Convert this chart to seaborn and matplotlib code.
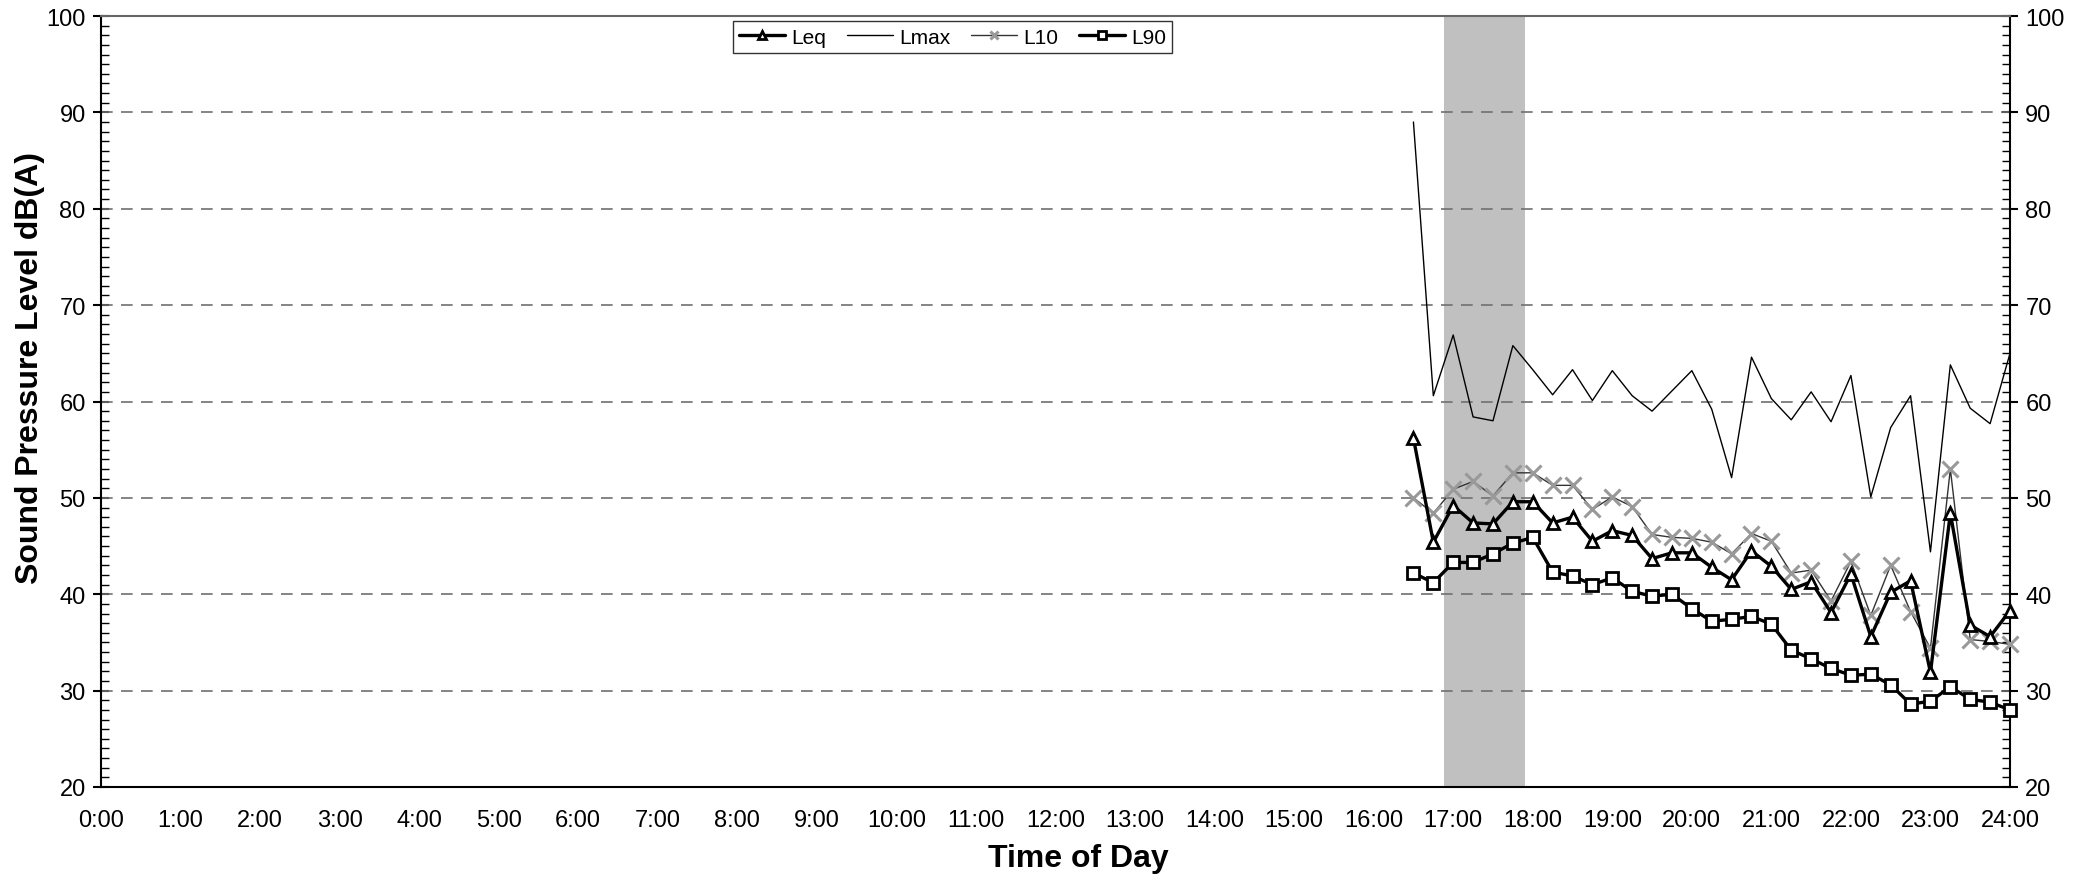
import matplotlib
matplotlib.use("Agg")
import matplotlib.pyplot as plt
import seaborn as sns
import pandas as pd
import numpy as np
from matplotlib.ticker import MultipleLocator, FixedLocator

times = ["16:30", "16:45", "17:00", "17:15", "17:30", "17:45", "18:00", "18:15",
         "18:30", "18:45", "19:00", "19:15", "19:30", "19:45", "20:00", "20:15",
         "20:30", "20:45", "21:00", "21:15", "21:30", "21:45", "22:00", "22:15",
         "22:30", "22:45", "23:00", "23:15", "23:30", "23:45", "24:00"]

leq = [56.2, 45.4, 49.2, 47.4, 47.3, 49.6, 49.6, 47.4, 48.0, 45.5, 46.6, 46.1,
       43.7, 44.3, 44.3, 42.8, 41.5, 44.5, 42.9, 40.5, 41.3, 38.1, 42.1, 35.6,
       40.2, 41.4, 31.9, 48.4, 36.8, 35.6, 38.3]

lmax = [89.0, 60.6, 66.9, 58.4, 58.0, 65.8, 63.3, 60.7, 63.3, 60.1, 63.2, 60.6,
        59.0, 61.1, 63.2, 59.2, 52.1, 64.6, 60.3, 58.1, 61.0, 57.9, 62.7, 50.1,
        57.3, 60.6, 44.4, 63.8, 59.3, 57.7, 65.0]

l10 = [50.0, 48.4, 50.9, 51.7, 50.2, 52.6, 52.6, 51.3, 51.3, 48.8, 50.1, 49.1,
       46.2, 45.9, 45.8, 45.4, 44.2, 46.3, 45.5, 42.2, 42.5, 39.3, 43.4, 37.8,
       43.0, 38.2, 34.4, 53.0, 35.3, 35.1, 34.8]

l90 = [42.2, 41.2, 43.3, 43.3, 44.2, 45.3, 45.9, 42.3, 41.9, 41.0, 41.7, 40.3,
       39.8, 40.0, 38.5, 37.2, 37.4, 37.7, 36.9, 34.2, 33.3, 32.3, 31.6, 31.7,
       30.6, 28.6, 28.9, 30.4, 29.1, 28.8, 28.0]

hour_labels = ["%d:00" % h for h in range(25)]
y_ticks = [20, 30, 40, 50, 60, 70, 80, 90, 100]
band = [16.88, 17.9]

def to_hours(s):
    h, m = s.split(":")
    return int(h) + int(m) / 60.0

df = pd.DataFrame({"hours": [to_hours(t) for t in times],
                   "Leq": leq, "Lmax": lmax, "L10": l10, "L90": l90})

sns.set_style("white")
plt.rcParams["font.family"] = ["Liberation Sans", "DejaVu Sans"]
plt.rcParams["text.color"] = "black"
plt.rcParams["axes.labelcolor"] = "black"
plt.rcParams["xtick.color"] = "black"
plt.rcParams["ytick.color"] = "black"

fig = plt.figure(figsize=(20.9, 8.79), dpi=100)
ax = fig.add_axes([101 / 2090, 1 - 788 / 879, (2010 - 101) / 2090, (788 - 17) / 879])

ax.axvspan(band[0], band[1], color="#c0c0c0", zorder=0, lw=0)

for yv in y_ticks[1:-1]:
    ax.axhline(yv, color="#707070", lw=1.2, ls=(0, (7, 5)), zorder=1)

sns.lineplot(data=df, x="hours", y="Lmax", ax=ax, color="black", lw=1.0,
             label="Lmax", zorder=3, clip_on=False)
sns.lineplot(data=df, x="hours", y="L10", ax=ax, color="#333333", lw=1.0,
             marker="x", markersize=11, markeredgewidth=2.2,
             markeredgecolor="#999999", label="L10", zorder=4, clip_on=False)
sns.lineplot(data=df, x="hours", y="L90", ax=ax, color="black", lw=2.4,
             marker="s", markersize=8, markerfacecolor="white",
             markeredgecolor="black", markeredgewidth=2.0, label="L90", zorder=5,
             clip_on=False)
sns.lineplot(data=df, x="hours", y="Leq", ax=ax, color="black", lw=2.4,
             marker="^", markersize=9, markerfacecolor="white",
             markeredgecolor="black", markeredgewidth=2.0, label="Leq", zorder=6,
             clip_on=False)

ax.set_xlim(0, 24)
ax.set_ylim(20, 100)
ax.xaxis.set_major_locator(FixedLocator(range(25)))
ax.set_xticklabels(hour_labels, fontsize=17, color="black")
ax.set_yticks(y_ticks)
ax.set_yticklabels([str(v) for v in y_ticks], fontsize=17, color="black")
ax.yaxis.set_minor_locator(MultipleLocator(1))
ax.tick_params(axis="x", which="major", direction="out", length=7, width=1.2,
               color="#555555", labelcolor="black", pad=9)
ax.tick_params(axis="y", which="major", direction="inout", length=12, width=1.5,
               left=True, right=True, labelleft=True, labelright=True, pad=5,
               color="black", labelcolor="black")
ax.tick_params(axis="y", which="minor", direction="in", length=6, width=1.0,
               left=True, right=True, color="black")
for sp in ax.spines.values():
    sp.set_visible(True)
    sp.set_color("black")
    sp.set_linewidth(1.5)
ax.spines["top"].set_color("#666666")

ax.set_xlabel("Time of Day", fontsize=23, fontweight="bold", color="black")
ax.xaxis.set_label_coords(0.512, -0.073)
ax.set_ylabel("Sound Pressure Level dB(A)", fontsize=23, fontweight="bold",
              color="black")
ax.yaxis.set_label_coords(-0.0293, 0.545)

handles, labels = ax.get_legend_handles_labels()
order = [labels.index(n) for n in ["Leq", "Lmax", "L10", "L90"]]
leg = ax.legend([handles[i] for i in order], [labels[i] for i in order],
                loc="upper center", bbox_to_anchor=(0.446, 0.993), ncol=4,
                fontsize=15, frameon=True, fancybox=False, handlelength=2.2,
                columnspacing=1.0, handletextpad=0.3, borderpad=0.3,
                borderaxespad=0, labelcolor="black")
leg.get_frame().set_edgecolor("black")
leg.get_frame().set_linewidth(1.0)
for h in leg.legend_handles:
    try:
        h.set_markersize(6)
    except Exception:
        pass

fig.savefig("out.png", dpi=100)
